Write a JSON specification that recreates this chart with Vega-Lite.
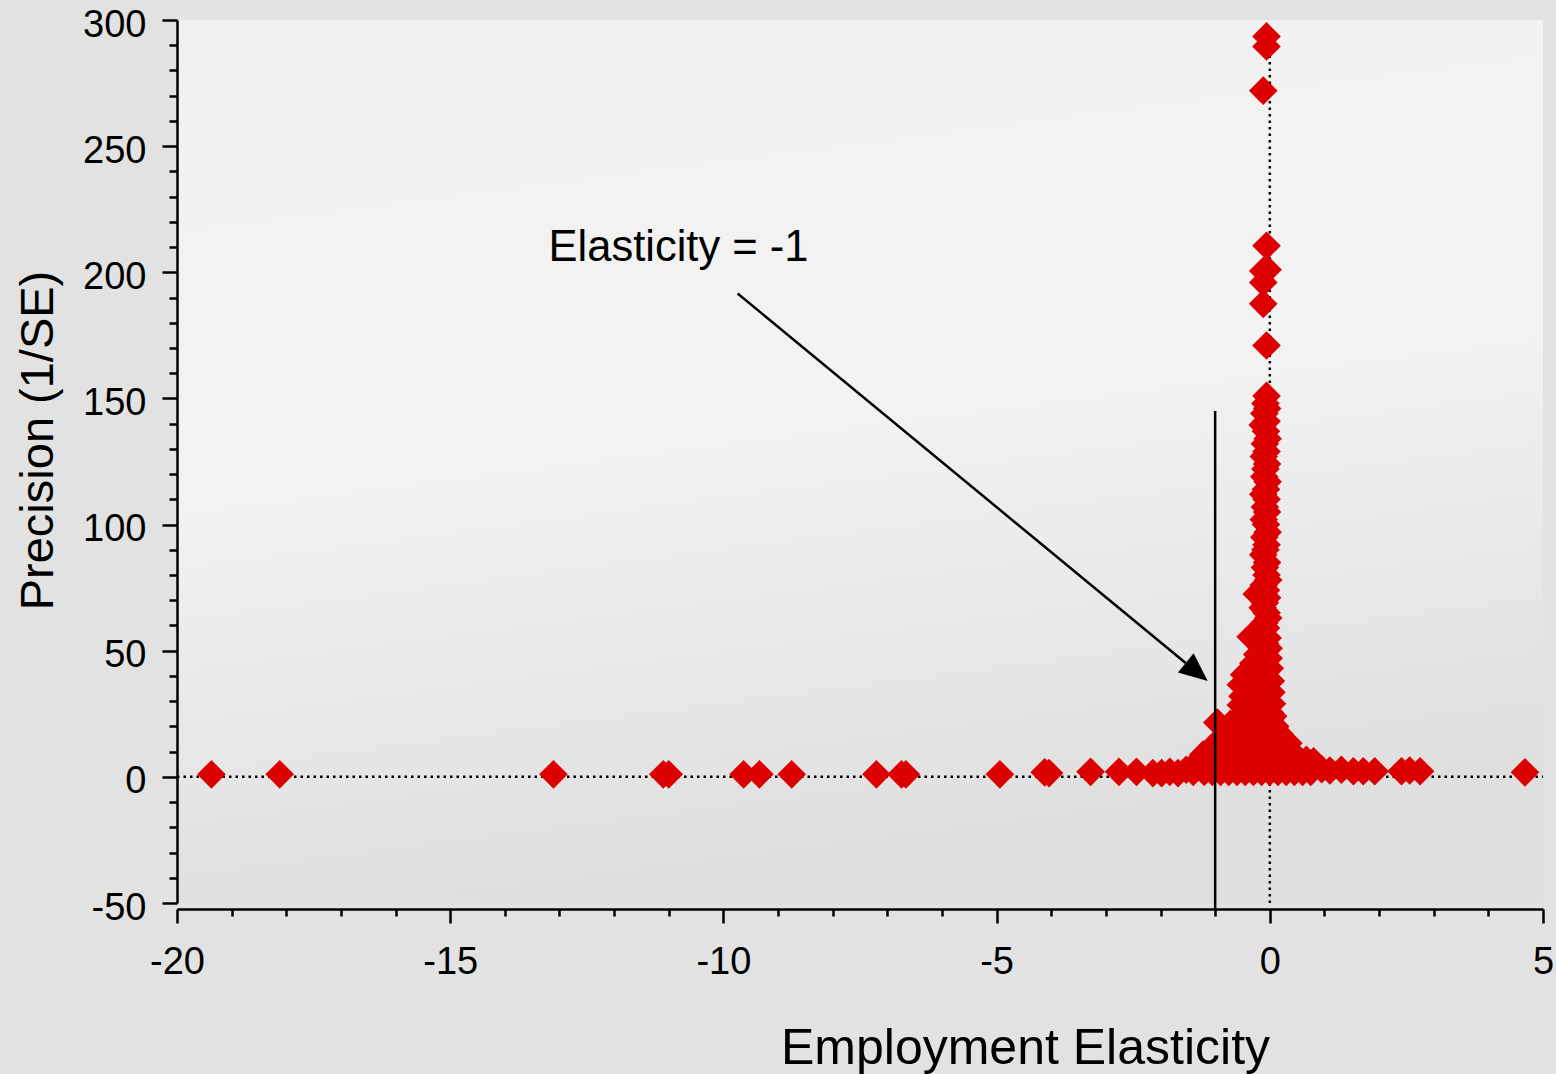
{
  "$schema": "https://vega.github.io/schema/vega-lite/v6.json",
  "width": 1366,
  "height": 883,
  "autosize": {"type": "none"},
  "padding": {"left": 177, "top": 20, "right": 13, "bottom": 171},
  "background": "#e2e2e2",
  "config": {
    "view": {"stroke": null, "fill": {"gradient": "linear", "x1": 0, "y1": 0, "x2": 0.2, "y2": 1, "stops": [{"offset": 0, "color": "#f0f0f0"}, {"offset": 0.5, "color": "#f3f3f3"}, {"offset": 1, "color": "#dfdfdf"}]}},
    "axis": {
      "grid": false,
      "labelFont": "Liberation Sans",
      "labelFontSize": 38,
      "labelColor": "#000000",
      "titleFont": "Liberation Sans",
      "titleFontSize": 47,
      "titleFontWeight": "normal",
      "titleColor": "#000000",
      "domainColor": "#000000",
      "domainWidth": 2.5,
      "tickColor": "#000000",
      "tickWidth": 2.5,
      "labelOverlap": false,
      "labelBound": false,
      "labelFlush": false
    }
  },
  "resolve": {"axis": {"y": "independent"}},
  "datasets": {
    "studies": [
      {"e": -0.06, "p": 293.5}, {"e": -0.06, "p": 289.5}, {"e": -0.12, "p": 272}, {"e": -0.06, "p": 210.5},
      {"e": -0.04, "p": 201}, {"e": -0.12, "p": 200.5}, {"e": -0.12, "p": 196}, {"e": -0.12, "p": 187.5},
      {"e": -0.06, "p": 171}, {"e": -0.06, "p": 151},
      {"e": -0.08, "p": 148}, {"e": -0.05, "p": 146}, {"e": -0.10, "p": 144}, {"e": -0.06, "p": 141},
      {"e": -0.13, "p": 139.5}, {"e": -0.07, "p": 137}, {"e": -0.04, "p": 134}, {"e": -0.09, "p": 132},
      {"e": -0.06, "p": 129}, {"e": -0.11, "p": 127}, {"e": -0.05, "p": 124}, {"e": -0.08, "p": 122},
      {"e": -0.10, "p": 119}, {"e": -0.04, "p": 117}, {"e": -0.07, "p": 114}, {"e": -0.12, "p": 112},
      {"e": -0.06, "p": 110}, {"e": -0.09, "p": 107}, {"e": -0.05, "p": 105}, {"e": -0.11, "p": 102},
      {"e": -0.07, "p": 100}, {"e": -0.04, "p": 97}, {"e": -0.10, "p": 95}, {"e": -0.06, "p": 92},
      {"e": -0.08, "p": 90}, {"e": -0.12, "p": 88}, {"e": -0.05, "p": 85}, {"e": -0.09, "p": 83},
      {"e": -0.06, "p": 80}, {"e": -0.03, "p": 78}, {"e": -0.11, "p": 76}, {"e": -0.07, "p": 74},
      {"e": -0.24, "p": 72.5}, {"e": -0.05, "p": 71}, {"e": -0.09, "p": 69}, {"e": -0.13, "p": 67},
      {"e": -0.06, "p": 65}, {"e": -0.03, "p": 63}, {"e": -0.10, "p": 61}, {"e": -0.07, "p": 59},
      {"e": -0.14, "p": 57}, {"e": -0.35, "p": 55.5}, {"e": -0.04, "p": 55}, {"e": -0.09, "p": 53},
      {"e": -0.02, "p": 51},
      {"e": -0.23, "p": 48.5}, {"e": -0.12, "p": 48}, {"e": -0.02, "p": 47}, {"e": -0.30, "p": 45},
      {"e": -0.15, "p": 44}, {"e": 0.00, "p": 43}, {"e": -0.47, "p": 40.5}, {"e": -0.35, "p": 41},
      {"e": -0.20, "p": 40}, {"e": -0.08, "p": 39}, {"e": 0.02, "p": 38}, {"e": -0.53, "p": 36.5},
      {"e": -0.40, "p": 35}, {"e": -0.25, "p": 35.5}, {"e": -0.12, "p": 34}, {"e": 0.03, "p": 33.5},
      {"e": -0.50, "p": 32}, {"e": -0.33, "p": 31}, {"e": -0.18, "p": 31.5}, {"e": -0.05, "p": 30},
      {"e": 0.04, "p": 29}, {"e": -0.53, "p": 28.5}, {"e": -0.42, "p": 27}, {"e": -0.28, "p": 27.5},
      {"e": -0.14, "p": 26}, {"e": 0.00, "p": 25.5}, {"e": 0.06, "p": 24},
      {"e": -0.96, "p": 21.5}, {"e": -0.72, "p": 21}, {"e": -0.58, "p": 23}, {"e": -0.45, "p": 22},
      {"e": -0.30, "p": 21.5}, {"e": -0.17, "p": 21}, {"e": -0.05, "p": 20.5}, {"e": 0.10, "p": 20},
      {"e": -0.75, "p": 17.5}, {"e": -0.55, "p": 17.5}, {"e": -0.35, "p": 17.5}, {"e": -0.15, "p": 17.5},
      {"e": 0.05, "p": 17.5}, {"e": 0.18, "p": 17},
      {"e": -1.00, "p": 13}, {"e": -0.85, "p": 13.5}, {"e": -0.65, "p": 13.5}, {"e": -0.45, "p": 13.5},
      {"e": -0.25, "p": 13.5}, {"e": -0.05, "p": 13.5}, {"e": 0.12, "p": 13.5}, {"e": 0.26, "p": 14.5},
      {"e": 0.34, "p": 13.3},
      {"e": -1.22, "p": 8.8}, {"e": -1.05, "p": 9.5}, {"e": -0.85, "p": 9.5}, {"e": -0.65, "p": 9.5},
      {"e": -0.45, "p": 9.5}, {"e": -0.25, "p": 9.5}, {"e": -0.05, "p": 9.5}, {"e": 0.15, "p": 9.5},
      {"e": 0.30, "p": 9.5}, {"e": 0.42, "p": 9.5},
      {"e": -1.34, "p": 5.6}, {"e": -1.15, "p": 5.5}, {"e": -0.95, "p": 5.5}, {"e": -0.75, "p": 5.5},
      {"e": -0.55, "p": 5.5}, {"e": -0.35, "p": 5.5}, {"e": -0.15, "p": 5.5}, {"e": 0.05, "p": 5.5},
      {"e": 0.25, "p": 5.5}, {"e": 0.45, "p": 5.5}, {"e": 0.58, "p": 5.5}, {"e": 0.67, "p": 6.8},
      {"e": 0.80, "p": 6.2},
      {"e": -19.37, "p": 1}, {"e": -18.12, "p": 1}, {"e": -13.11, "p": 1}, {"e": -11.10, "p": 1},
      {"e": -11.00, "p": 1}, {"e": -9.63, "p": 1}, {"e": -9.34, "p": 1}, {"e": -8.75, "p": 1},
      {"e": -7.20, "p": 1}, {"e": -6.74, "p": 1}, {"e": -6.66, "p": 1}, {"e": -4.94, "p": 1},
      {"e": -4.12, "p": 1.8}, {"e": -4.04, "p": 1.5}, {"e": -3.28, "p": 2}, {"e": -2.76, "p": 2},
      {"e": -2.44, "p": 2}, {"e": -2.14, "p": 1.5}, {"e": -1.98, "p": 1.5}, {"e": -1.83, "p": 2},
      {"e": -1.68, "p": 1.5}, {"e": -1.53, "p": 2.8}, {"e": -1.40, "p": 2}, {"e": -1.20, "p": 2},
      {"e": -1.05, "p": 2}, {"e": -0.90, "p": 2}, {"e": -0.75, "p": 2}, {"e": -0.60, "p": 2},
      {"e": -0.45, "p": 2}, {"e": -0.30, "p": 2}, {"e": -0.15, "p": 2}, {"e": 0.00, "p": 2},
      {"e": 0.15, "p": 2}, {"e": 0.30, "p": 2}, {"e": 0.45, "p": 2}, {"e": 0.60, "p": 2},
      {"e": 0.75, "p": 2}, {"e": 0.95, "p": 3}, {"e": 1.10, "p": 2.5}, {"e": 1.31, "p": 2.8},
      {"e": 1.53, "p": 2.2}, {"e": 1.71, "p": 2.2}, {"e": 1.92, "p": 2.2}, {"e": 2.41, "p": 2.2},
      {"e": 2.56, "p": 2.5}, {"e": 2.75, "p": 2.2}, {"e": 4.67, "p": 1.8}
    ]
  },
  "layer": [
    {
      "data": {"values": [{"e0": -20, "e1": 5, "p": 0}]},
      "mark": {"type": "rule", "color": "#000000", "strokeWidth": 2.5, "strokeDash": [2.5, 4], "clip": false},
      "encoding": {
        "x": {"field": "e0", "type": "quantitative",
          "scale": {"domain": [-20, 5], "nice": false, "zero": false},
          "axis": {
            "title": "Employment Elasticity",
            "orient": "bottom",
            "offset": 6,
            "values": [-20, -19, -18, -17, -16, -15, -14, -13, -12, -11, -10, -9, -8, -7, -6, -5, -4, -3, -2, -1, 0, 1, 2, 3, 4, 5],
            "labelExpr": "datum.value % 5 === 0 ? toString(datum.value) : ''",
            "labelOverlap": false,
            "tickSize": {"condition": {"test": "datum.value % 5 === 0", "value": 14}, "value": 7},
            "labelPadding": 20,
            "titleFontSize": 50,
            "titleX": 848,
            "titleY": 154,
            "titleBaseline": "alphabetic"
          }
        },
        "x2": {"field": "e1"},
        "y": {"field": "p", "type": "quantitative",
          "scale": {"domain": [-50, 300], "nice": false, "zero": false},
          "axis": {
            "title": "Precision (1/SE)",
            "orient": "left",
            "values": [-50, 0, 50, 100, 150, 200, 250, 300],
            "labelExpr": "toString(datum.value)",
            "labelOverlap": false,
            "tickSize": 15,
            "labelPadding": 16,
            "labelOffset": 5,
            "titleAngle": 270,
            "titleX": -125,
            "titleY": 420,
            "titleBaseline": "alphabetic"
          }
        }
      }
    },
    {
      "data": {"values": [{"e": 0, "p0": -50, "p1": 295}]},
      "mark": {"type": "rule", "color": "#000000", "strokeWidth": 2.5, "strokeDash": [2.5, 4], "clip": false},
      "encoding": {
        "x": {"field": "e", "type": "quantitative"},
        "y": {"field": "p0", "type": "quantitative",
          "axis": {
            "orient": "left",
            "title": null,
            "labels": false,
            "domain": false,
            "values": [-40, -30, -20, -10, 10, 20, 30, 40, 60, 70, 80, 90, 110, 120, 130, 140, 160, 170, 180, 190, 210, 220, 230, 240, 260, 270, 280, 290],
            "tickSize": 8
          }
        },
        "y2": {"field": "p1"}
      }
    },
    {
      "data": {"name": "studies"},
      "mark": {"type": "point", "shape": "diamond", "filled": true, "size": 820, "color": "#dc0000", "opacity": 1, "strokeWidth": 0, "clip": false},
      "encoding": {
        "x": {"field": "e", "type": "quantitative"},
        "y": {"field": "p", "type": "quantitative", "axis": null}
      }
    },
    {
      "data": {"values": [{"e": -1, "p0": -52.5, "p1": 145}]},
      "mark": {"type": "rule", "color": "#000000", "strokeWidth": 2.5, "clip": false},
      "encoding": {
        "x": {"field": "e", "type": "quantitative"},
        "y": {"field": "p0", "type": "quantitative", "axis": null},
        "y2": {"field": "p1"}
      }
    },
    {
      "data": {"values": [{"e0": -9.74, "p0": 191.6, "e1": -1.54, "p1": 45.1}]},
      "mark": {"type": "rule", "color": "#000000", "strokeWidth": 2.5, "clip": false},
      "encoding": {
        "x": {"field": "e0", "type": "quantitative"},
        "y": {"field": "p0", "type": "quantitative", "axis": null},
        "x2": {"field": "e1"},
        "y2": {"field": "p1"}
      }
    },
    {
      "data": {"values": [{"e": -1.337, "p": 41.6}]},
      "mark": {"type": "point", "shape": "M-1,-0.87L1,0L-1,0.87Z", "filled": true, "size": 807, "angle": 39.5, "color": "#000000", "opacity": 1, "strokeWidth": 0, "clip": false},
      "encoding": {
        "x": {"field": "e", "type": "quantitative"},
        "y": {"field": "p", "type": "quantitative", "axis": null}
      }
    },
    {
      "data": {"values": [{"e": -13.2, "p": 204.5, "label": "Elasticity = -1"}]},
      "mark": {"type": "text", "align": "left", "baseline": "alphabetic", "font": "Liberation Sans", "fontSize": 43.5, "color": "#000000"},
      "encoding": {
        "x": {"field": "e", "type": "quantitative"},
        "y": {"field": "p", "type": "quantitative", "axis": null},
        "text": {"field": "label"}
      }
    }
  ]
}
